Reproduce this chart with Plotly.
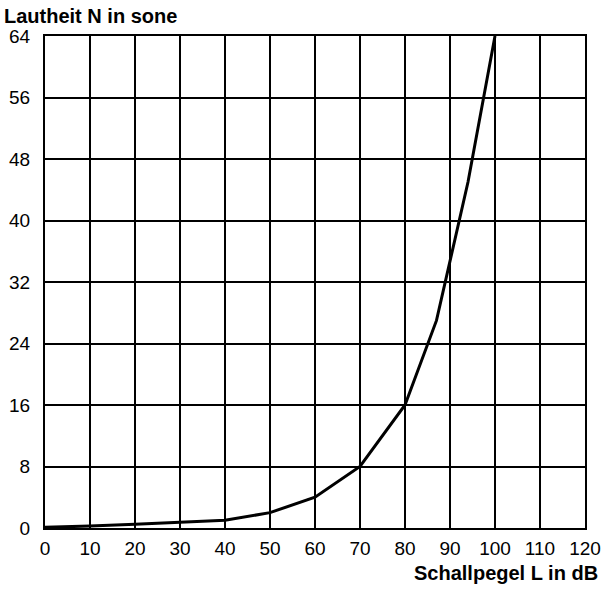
import plotly.graph_objects as go

# Schallpegel L in dB vs Lautheit N in sone
L_db = [0, 10, 20, 30, 40, 50, 60, 70, 80, 87, 94, 100]
N_sone = [0.1, 0.25, 0.5, 0.75, 1, 2, 4, 8, 16, 27, 45, 64]

x_ticks = list(range(0, 121, 10))
y_ticks = list(range(0, 65, 8))

FONT = "Liberation Sans, Arial, sans-serif"

fig = go.Figure()
fig.add_trace(go.Scatter(x=L_db, y=N_sone, mode="lines",
                         line=dict(color="black", width=3), showlegend=False,
                         cliponaxis=True))

W, H = 603, 592
ml, mr, mt, mb = 45, 18, 36, 64
pw, ph = W - ml - mr, H - mt - mb

fig.update_layout(
    width=W, height=H,
    margin=dict(l=ml, r=mr, t=mt, b=mb),
    paper_bgcolor="white", plot_bgcolor="white",
    font=dict(family=FONT, color="black", size=19),
    xaxis=dict(range=[0, 120], tickvals=x_ticks, showgrid=True, gridcolor="black",
               gridwidth=2, zeroline=False, showline=True, linecolor="black",
               linewidth=2, mirror=True, ticks="", ticklabelstandoff=2,
               automargin=False, tickfont=dict(size=19, family=FONT)),
    yaxis=dict(range=[0, 64], tickvals=y_ticks, showgrid=True, gridcolor="black",
               gridwidth=2, zeroline=False, showline=True, linecolor="black",
               linewidth=2, mirror=True, ticks="", ticklabelstandoff=9,
               automargin=False, tickfont=dict(size=19, family=FONT)),
    annotations=[
        dict(text="<b>Lautheit N in sone</b>", xref="paper", yref="paper",
             x=(2 - ml) / pw, y=(H - mb - 16) / ph, xanchor="left", yanchor="middle",
             showarrow=False, font=dict(size=20, family=FONT, color="black")),
        dict(text="<b>Schallpegel L in dB</b>", xref="paper", yref="paper",
             x=(600 - ml) / pw, y=(H - mb - 573) / ph, xanchor="right", yanchor="middle",
             showarrow=False, font=dict(size=20, family=FONT, color="black")),
    ],
)

fig.write_html(
    "out.html",
    config={"displayModeBar": False},
    post_script="document.body.style.margin='0';document.body.style.overflow='hidden';",
)
